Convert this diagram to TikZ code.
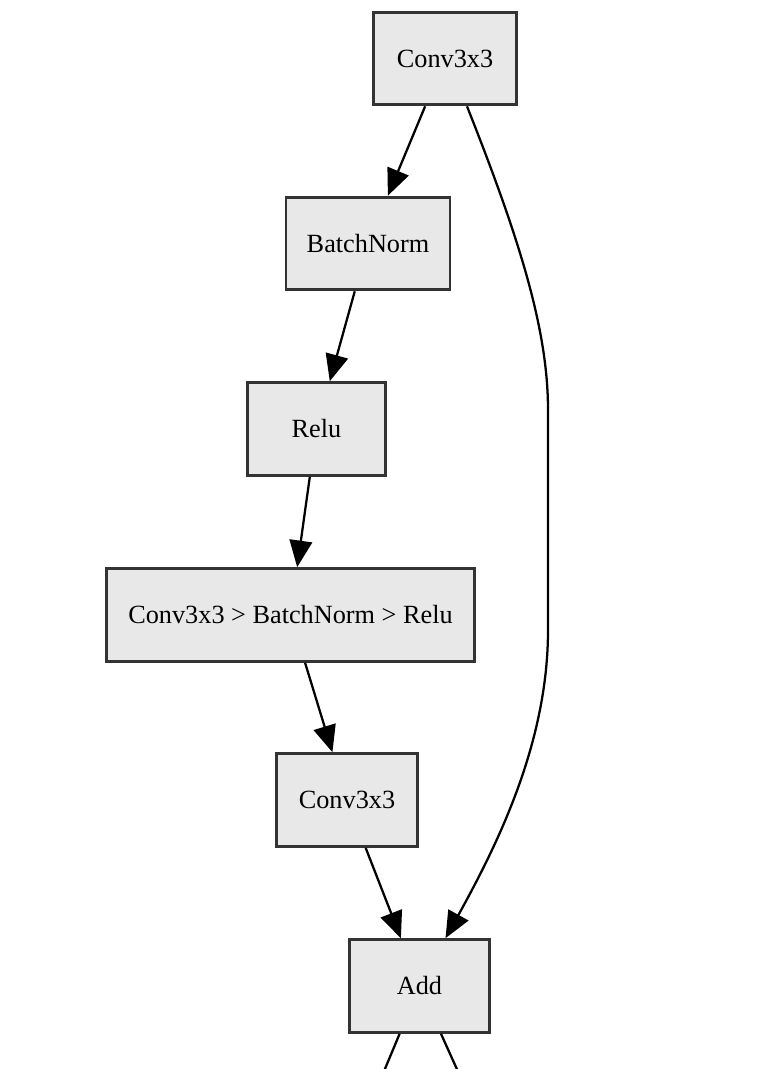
\documentclass[tikz,border=0pt]{standalone}
\usepackage{fontspec}
\setmainfont{Liberation Serif}
\usepackage{tikz}
\usetikzlibrary{calc,arrows.meta}

\definecolor{boxfill}{HTML}{E8E8E8}
\definecolor{boxline}{HTML}{333333}

\tikzset{
  VertexStyle/.style = {draw=boxline, fill=boxfill, line width=2.2pt,
    rectangle, inner sep=0pt, minimum height=69.5pt,
    font=\fontsize{19.7}{23}\selectfont},
  EdgeStyle/.style = {line width=1.7pt, black,
    -{Triangle[length=20pt,width=17pt]}},
}

\begin{document}
\begin{tikzpicture}[x=0.75pt,y=-0.75pt]
          \useasboundingbox (0,0) rectangle (767,1069);

          \node[VertexStyle, minimum width=107pt] (conv_a) at (445,58.5){Conv3x3};
          \node[VertexStyle, minimum width=123pt] (bn) at (368,243.5){BatchNorm};
          \node[VertexStyle, minimum width=104pt] (relu) at (316.5,429){Relu};
          \node[VertexStyle, minimum width=276pt] (cbr) at (290.5,615){Conv3x3 > BatchNorm > Relu};
          \node[VertexStyle, minimum width=106pt] (conv_b) at (347,800){Conv3x3};
          \node[VertexStyle, minimum width=105pt] (add) at (419.5,986){Add};

          % outputs leaving the picture
          \coordinate (out_a) at (382,1076);
          \coordinate (out_b) at (460,1076);

          % main branch
          \draw[EdgeStyle] (conv_a) -- (bn);
          \draw[EdgeStyle] (bn) -- (relu);
          \draw[EdgeStyle] (relu) -- (cbr);
          \draw[EdgeStyle] (cbr) -- (conv_b);
          \draw[EdgeStyle] (conv_b) -- (add);

          % skip connection
          \draw[EdgeStyle] ($(conv_a.south)+(22,0)$)
            .. controls (520,240) and (548,330) .. (548,410) -- (548,630)
            .. controls (548,740) and (500,840) .. ($(add.north)+(26,0)$);

          \draw[EdgeStyle,-] (add) -- (out_a);
          \draw[EdgeStyle,-] (add) -- (out_b);
        \end{tikzpicture}
\end{document}
